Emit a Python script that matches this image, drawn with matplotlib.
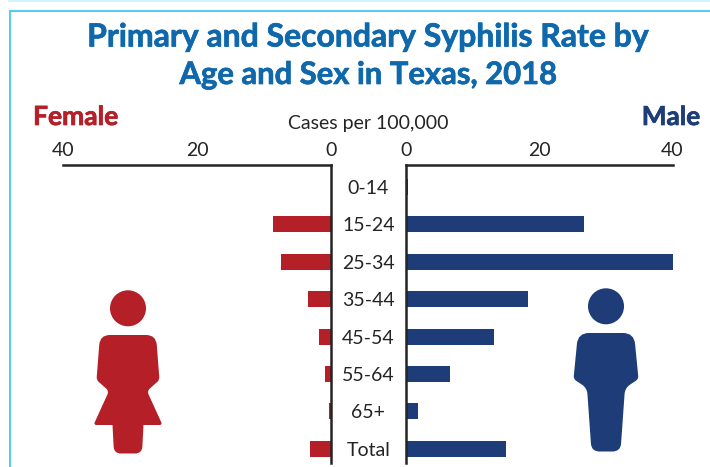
import matplotlib
matplotlib.use("Agg")
import matplotlib.pyplot as plt
import matplotlib.patheffects as pe
from matplotlib.path import Path
from matplotlib.patches import PathPatch, Circle

plt.rcParams['font.family'] = ['Lato', 'DejaVu Sans']

age_groups = ["0-14", "15-24", "25-34", "35-44", "45-54", "55-64", "65+", "Total"]
female_rate = [0, 8.6, 7.4, 3.4, 1.8, 0.9, 0.3, 3.1]
male_rate = [0.3, 26.7, 40, 18.3, 13.2, 6.6, 1.8, 15.0]
x_ticks = [0, 20, 40]

RED = "#b41f28"
NAVY = "#1d3c78"
BLUE = "#0f68ab"
INK = "#262324"
W, H = 710, 467


def axes_px(fig, left, right, top, bottom):
    return fig.add_axes([left / W, 1 - bottom / H, (right - left) / W, (bottom - top) / H])


def rounded_path(points):
    # points are (x, y, radius), corners get a quadratic curve
    verts, codes = [], []
    n = len(points)
    for i, (x, y, r) in enumerate(points):
        px, py, _ = points[i - 1]
        nx, ny, _ = points[(i + 1) % n]
        d1 = ((px - x) ** 2 + (py - y) ** 2) ** 0.5
        d2 = ((nx - x) ** 2 + (ny - y) ** 2) ** 0.5
        a = (x + (px - x) * r / d1, y + (py - y) * r / d1)
        b = (x + (nx - x) * r / d2, y + (ny - y) * r / d2)
        verts.append(a)
        codes.append(Path.MOVETO if i == 0 else Path.LINETO)
        verts += [(x, y), b]
        codes += [Path.CURVE3, Path.CURVE3]
    verts.append(verts[0])
    codes.append(Path.CLOSEPOLY)
    return Path(verts, codes)


def heavy(color, width=0.5):
    # Lato bold is a bit lighter than the original lettering
    return [pe.withStroke(linewidth=width, foreground=color)]


fig = plt.figure(figsize=(7.10, 4.67), dpi=100)

# page furniture and icons, in pixel coordinates
bg = fig.add_axes([0, 0, 1, 1])
bg.set_xlim(0, W)
bg.set_ylim(H, 0)
bg.axis("off")
bg.plot([10, 10, W], [H, 11, 11], color="#4fcdf0", lw=1.4, solid_joinstyle="miter")
bg.plot([9, W], [0.5, 0.5], color="#c8f1fb", lw=1.2)

female_shape = [(100, 335, 10), (156, 335, 10), (159.5, 380, 3), (147, 391, 4),
                (162.5, 425, 3), (143.5, 425, 0.1), (142, 453.5, 7), (114, 453.5, 7),
                (112.5, 425, 0.1), (93.5, 425, 3), (109, 391, 4), (96.5, 380, 3)]
male_shape = [(578, 333, 11), (634, 333, 11), (638.5, 379, 3), (625, 388, 6),
              (620.5, 451.5, 8), (591.5, 451.5, 8), (587, 388, 6), (573.5, 379, 3)]
bg.add_patch(PathPatch(rounded_path(female_shape), fc=RED, ec="none"))
bg.add_patch(Circle((128, 308.3), 18, fc=RED, ec="none"))
bg.add_patch(PathPatch(rounded_path(male_shape), fc=NAVY, ec="none"))
bg.add_patch(Circle((606, 306.3), 18, fc=NAVY, ec="none"))

bg.text(368.5, 37, "Primary and Secondary Syphilis Rate by", ha="center", va="center",
        fontsize=23, fontweight="bold", color=BLUE, path_effects=heavy(BLUE))
bg.text(368.5, 75, "Age and Sex in Texas, 2018", ha="center", va="center",
        fontsize=22.3, fontweight="bold", color=BLUE, path_effects=heavy(BLUE))
bg.text(75.5, 117, "Female", ha="center", va="center", fontsize=19, fontweight="bold",
        color=RED, path_effects=heavy(RED))
bg.text(671, 117, "Male", ha="center", va="center", fontsize=18.8, fontweight="bold",
        color=NAVY, path_effects=heavy(NAVY))
bg.text(368, 123, "Cases per 100,000", ha="center", va="center", fontsize=14, color=INK)

ax_f = axes_px(fig, 63, 331, 165, 463)
ax_m = axes_px(fig, 406, 672.5, 165, 463)

y = list(range(len(age_groups)))
ax_f.barh(y, female_rate, height=0.43, color=RED)
ax_m.barh(y, male_rate, height=0.43, color=NAVY)

for ax in (ax_f, ax_m):
    ax.patch.set_alpha(0)
    ax.set_ylim(7.38, -0.59)
    ax.set_xticks(x_ticks)
    ax.xaxis.tick_top()
    ax.tick_params(axis="x", length=0, pad=4, labelsize=14, labelcolor=INK)
    ax.spines["bottom"].set_visible(False)
    for side in ("top", "left", "right"):
        ax.spines[side].set_linewidth(1.8)
        ax.spines[side].set_color(INK)

ax_f.set_xlim(40, 0)
ax_f.spines["left"].set_visible(False)
ax_f.set_yticks([])

ax_m.set_xlim(0, 40)
ax_m.spines["right"].set_visible(False)
ax_m.set_yticks(y)
ax_m.set_yticklabels(age_groups, ha="center")
ax_m.tick_params(axis="y", length=0, pad=27, labelsize=14, labelcolor=INK)

fig.savefig("out.png", dpi=100)
